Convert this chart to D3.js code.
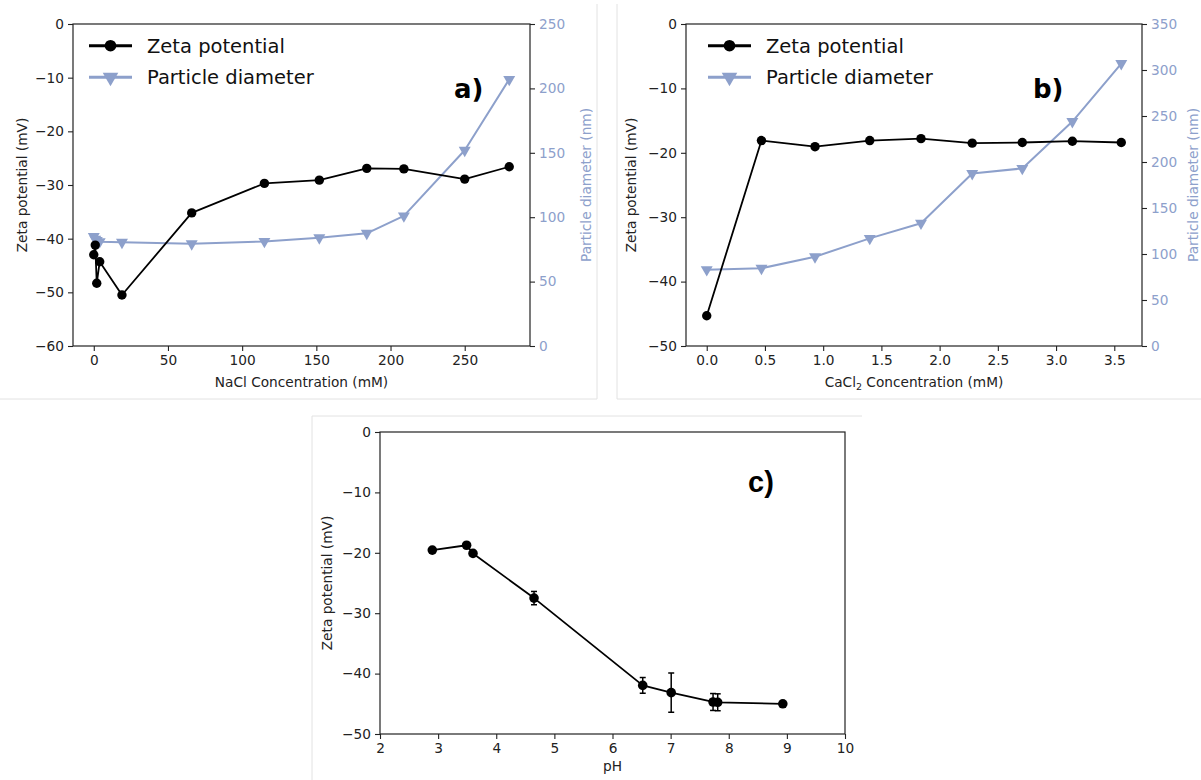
<!DOCTYPE html>
<html>
<head>
<meta charset="utf-8">
<script src="https://cdn.jsdelivr.net/npm/d3@7"></script>
<style>
  body { margin: 0; background: #fff; }
  svg { display: block; }
  text { font-family: "DejaVu Sans", sans-serif; }
</style>
</head>
<body>
<svg id="fig" width="1201" height="780"></svg>
<script>
// Panel a: NaCl series
const naclConc = [0, 1, 2, 4, 19, 66, 115, 152, 184, 209, 250, 280];
const naclZeta = [-43, -41.2, -48.3, -44.3, -50.5, -35.2, -29.7, -29.1, -26.9, -27.0, -28.9, -26.6];
const naclDiameter = [85, 83, 82, 81, 80.5, 79.4, 81.2, 84, 87.5, 101, 152, 207];

// Panel b: CaCl2 series
const caclConc = [0, 0.47, 0.93, 1.40, 1.84, 2.28, 2.71, 3.14, 3.56];
const caclZeta = [-45.3, -18.1, -19.05, -18.1, -17.8, -18.5, -18.4, -18.2, -18.4];
const caclDiameter = [83, 84.5, 97, 117, 133.5, 187.5, 193, 244, 307];

// Panel c: pH series with error bars
const phValues = [2.90, 3.49, 3.60, 4.65, 6.52, 7.01, 7.73, 7.81, 8.93];
const phZeta = [-19.55, -18.75, -20.1, -27.5, -41.95, -43.15, -44.7, -44.75, -45.0];
const phErr = [0.3, 0.3, 0.3, 1.1, 1.3, 3.25, 1.4, 1.4, 0.35];

// tick labels
const naclXTicks = [0, 50, 100, 150, 200, 250];
const naclYTicks = [0, -10, -20, -30, -40, -50, -60];
const naclRTicks = [0, 50, 100, 150, 200, 250];
const caclXTicks = [0, 0.5, 1, 1.5, 2, 2.5, 3, 3.5];
const caclYTicks = [0, -10, -20, -30, -40, -50];
const caclRTicks = [0, 50, 100, 150, 200, 250, 300, 350];
const phXTicks = [2, 3, 4, 5, 6, 7, 8, 9, 10];
const phYTicks = [0, -10, -20, -30, -40, -50];

const legendLabels = ["Zeta potential", "Particle diameter"];
const zetaColor = "#000";
const diamColor = "#8da0cb";

const svg = d3.select("#fig");
const fmtMinus = f => d => f(d).replace("-", "\u2212");

// faint screenshot borders between panels
const borders = [
  [597, 4, 597, 399], [0, 399, 597, 399],
  [617, 4, 617, 399], [617, 399, 1201, 399],
  [312, 416, 862, 416], [312, 416, 312, 780]
];
svg.selectAll(".border").data(borders).enter().append("line")
  .attr("x1", d => d[0]).attr("y1", d => d[1])
  .attr("x2", d => d[2]).attr("y2", d => d[3])
  .attr("stroke", "#e2e2e2").attr("stroke-width", 1);

function styleAxis(g, color) {
  g.select(".domain").remove();
  g.selectAll(".tick line").attr("stroke", "#222").attr("stroke-width", 1.1);
  g.selectAll(".tick text").attr("font-size", 13.7)
    .style("font-family", "DejaVu Sans").attr("fill", color || "#222");
}

function panel(o) {
  const x = d3.scaleLinear().domain(o.xDomain).range([o.left, o.right]);
  const y = d3.scaleLinear().domain(o.yDomain).range([o.bottom, o.top]);

  svg.append("g").attr("transform", `translate(0,${o.bottom})`)
    .call(d3.axisBottom(x).tickValues(o.xTicks).tickFormat(fmtMinus(o.xFmt))
      .tickSize(5).tickSizeOuter(0).tickPadding(4))
    .call(g => styleAxis(g));

  svg.append("g").attr("transform", `translate(${o.left},0)`)
    .call(d3.axisLeft(y).tickValues(o.yTicks).tickFormat(fmtMinus(d3.format("d")))
      .tickSize(5).tickSizeOuter(0).tickPadding(4))
    .call(g => styleAxis(g));

  let yR = null;
  if (o.rDomain) {
    yR = d3.scaleLinear().domain(o.rDomain).range([o.bottom, o.top]);
    svg.append("g").attr("transform", `translate(${o.right},0)`)
      .call(d3.axisRight(yR).tickValues(o.rTicks).tickFormat(d3.format("d"))
        .tickSize(5).tickSizeOuter(0).tickPadding(4))
      .call(g => styleAxis(g, diamColor));
    svg.append("text")
      .attr("transform", `translate(${o.right + o.rLabelOff},${(o.top + o.bottom) / 2}) rotate(-90)`)
      .attr("text-anchor", "middle").attr("dy", "0.35em")
      .attr("font-size", 13.7).attr("fill", diamColor)
      .text("Particle diameter (nm)");
  }

  // frame
  svg.append("rect")
    .attr("x", o.left).attr("y", o.top)
    .attr("width", o.right - o.left).attr("height", o.bottom - o.top)
    .attr("fill", "none").attr("stroke", "#222").attr("stroke-width", 1.2);

  svg.append("text")
    .attr("transform", `translate(${o.left - o.yLabelOff},${(o.top + o.bottom) / 2}) rotate(-90)`)
    .attr("text-anchor", "middle").attr("dy", "0.35em")
    .attr("font-size", 13.7).attr("fill", "#222")
    .text("Zeta potential (mV)");

  const xl = svg.append("text")
    .attr("x", (o.left + o.right) / 2).attr("y", o.xLabelY)
    .attr("text-anchor", "middle").attr("font-size", 13.7).attr("fill", "#222");
  o.xLabel(xl);

  svg.append("text")
    .attr("x", o.tagX).attr("y", o.tagY)
    .style("font-family", o.tagFont)
    .attr("font-weight", "bold").attr("font-size", o.tagSize).attr("fill", "#000")
    .text(o.tag);

  return { x, y, yR };
}

const tri = d3.symbol().type(d3.symbolTriangle);

function drawZeta(s, xs, ys, r) {
  const pts = xs.map((v, i) => [s.x(v), s.y(ys[i])]);
  svg.append("path").attr("d", d3.line()(pts))
    .attr("fill", "none").attr("stroke", zetaColor).attr("stroke-width", 1.8)
    .attr("stroke-linejoin", "round");
  svg.append("g").selectAll("circle").data(pts).enter().append("circle")
    .attr("cx", d => d[0]).attr("cy", d => d[1]).attr("r", r)
    .attr("fill", zetaColor);
}

function drawDiameter(s, xs, ys) {
  const pts = xs.map((v, i) => [s.x(v), s.yR(ys[i])]);
  svg.append("path").attr("d", d3.line()(pts))
    .attr("fill", "none").attr("stroke", diamColor).attr("stroke-width", 2)
    .attr("stroke-linejoin", "round");
  svg.append("g").selectAll("path").data(pts).enter().append("path")
    .attr("d", tri.size(62)())
    .attr("transform", d => `translate(${d[0]},${d[1]}) rotate(180)`)
    .attr("fill", diamColor);
}

function legend(x0, y0) {
  const rowH = 31.5;
  legendLabels.forEach((label, i) => {
    const y = y0 + i * rowH;
    const col = i === 0 ? zetaColor : diamColor;
    svg.append("line").attr("x1", x0).attr("x2", x0 + 43).attr("y1", y).attr("y2", y)
      .attr("stroke", col).attr("stroke-width", 3);
    if (i === 0) {
      svg.append("circle").attr("cx", x0 + 21.5).attr("cy", y).attr("r", 5.8).attr("fill", col);
    } else {
      svg.append("path").attr("d", tri.size(105)())
        .attr("transform", `translate(${x0 + 21.5},${y}) rotate(180)`).attr("fill", col);
    }
    svg.append("text").attr("x", x0 + 58).attr("y", y).attr("dy", "0.36em")
      .attr("font-size", 19.5).attr("fill", "#111").text(label);
  });
}

// ---- Panel a ----
const A = panel({
  left: 73, right: 530, top: 24, bottom: 346,
  xDomain: [-14, 294], xTicks: naclXTicks, xFmt: d3.format("d"),
  yDomain: [-60, 0], yTicks: naclYTicks,
  rDomain: [0, 250], rTicks: naclRTicks, rLabelOff: 56,
  yLabelOff: 51, xLabelY: 387,
  xLabel: t => t.text("NaCl Concentration (mM)"),
  tag: "a)", tagX: 454, tagY: 98, tagSize: 26, tagFont: "DejaVu Sans"
});
drawDiameter(A, naclConc, naclDiameter);
drawZeta(A, naclConc, naclZeta, 4.7);
legend(89, 45.7);

// ---- Panel b ----
const B = panel({
  left: 686, right: 1142, top: 24, bottom: 346,
  xDomain: [-0.178, 3.738], xTicks: caclXTicks, xFmt: d3.format(".1f"),
  yDomain: [-50, 0], yTicks: caclYTicks,
  rDomain: [0, 350], rTicks: caclRTicks, rLabelOff: 51,
  yLabelOff: 55, xLabelY: 387,
  xLabel: t => {
    t.append("tspan").text("CaCl");
    t.append("tspan").attr("font-size", 9.5).attr("dy", 3).text("2");
    t.append("tspan").attr("dy", -3).text(" Concentration (mM)");
  },
  tag: "b)", tagX: 1033, tagY: 98, tagSize: 26, tagFont: "DejaVu Sans"
});
drawDiameter(B, caclConc, caclDiameter);
drawZeta(B, caclConc, caclZeta, 4.7);
legend(708, 45.7);

// ---- Panel c ----
const C = panel({
  left: 380, right: 845, top: 432, bottom: 734,
  xDomain: [2, 10], xTicks: phXTicks, xFmt: d3.format("d"),
  yDomain: [-50, 0], yTicks: phYTicks,
  yLabelOff: 52.5, xLabelY: 771,
  xLabel: t => t.text("pH"),
  tag: "c)", tagX: 748, tagY: 492, tagSize: 29, tagFont: "Liberation Sans"
});
// error bars
const errG = svg.append("g").attr("stroke", "#000").attr("stroke-width", 1.5);
phValues.forEach((v, i) => {
  const cx = C.x(v), y1 = C.y(phZeta[i] + phErr[i]), y2 = C.y(phZeta[i] - phErr[i]);
  errG.append("line").attr("x1", cx).attr("x2", cx).attr("y1", y1).attr("y2", y2);
  errG.append("line").attr("x1", cx - 3).attr("x2", cx + 3).attr("y1", y1).attr("y2", y1);
  errG.append("line").attr("x1", cx - 3).attr("x2", cx + 3).attr("y1", y2).attr("y2", y2);
});
drawZeta(C, phValues, phZeta, 4.8);
</script>
</body>
</html>
